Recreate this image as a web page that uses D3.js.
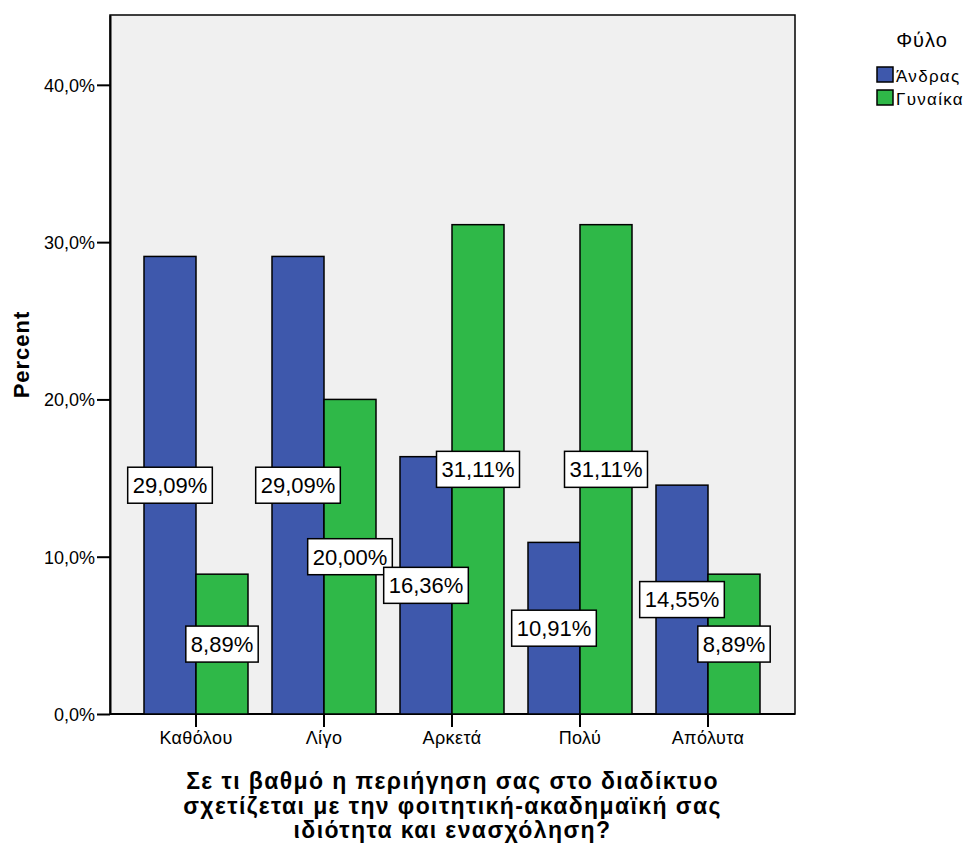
<!DOCTYPE html>
<html>
<head>
<meta charset="utf-8">
<script src="https://cdn.jsdelivr.net/npm/d3@7"></script>
<style>
  body { margin: 0; background: #fff; }
  text { font-family: "Liberation Sans", Arial, sans-serif; fill: #000; }
</style>
</head>
<body>
<div id="chart"></div>
<script>
const categories = ["Καθόλου", "Λίγο", "Αρκετά", "Πολύ", "Απόλυτα"];
const seriesNames = ["Άνδρας", "Γυναίκα"];
const andras = [29.09, 29.09, 16.36, 10.91, 14.55];
const gynaika = [8.89, 20.00, 31.11, 31.11, 8.89];
const yTicks = [0, 10, 20, 30, 40];
const yMax = 44.44;
const colors = ["#3e58ac", "#2fb848"];
const xTitle = ["Σε τι βαθμό η περιήγηση σας στο διαδίκτυο",
                "σχετίζεται με την φοιτητική-ακαδημαϊκή σας",
                "ιδιότητα και ενασχόληση?"];

const width = 968, height = 846;
const plot = {left: 110, top: 15, right: 795, bottom: 714};
const FONT = '"Liberation Sans", Arial, sans-serif';

let svg = d3.select("#chart")
    .append("svg")
    .attr("width", width)
    .attr("height", height);

let data = categories.map(function(c, i) {
    return {cat: c, values: [andras[i], gynaika[i]]};
});

let x0 = d3.scaleBand()
    .domain(categories)
    .range([plot.left + 22, plot.right - 23])
    .paddingInner(0.1875)
    .paddingOuter(0.09375);

let x1 = d3.scaleBand()
    .domain([0, 1])
    .range([0, x0.bandwidth()]);

let y = d3.scaleLinear()
    .domain([0, yMax])
    .range([plot.bottom, plot.top]);

// plot background
svg.append("rect")
    .attr("x", plot.left)
    .attr("y", plot.top)
    .attr("width", plot.right - plot.left)
    .attr("height", plot.bottom - plot.top)
    .attr("fill", "#f0f0f0")
    .attr("stroke", "#000")
    .attr("stroke-width", 1.5);

// y axis
let yAxis = svg.append("g")
    .attr("transform", `translate(${plot.left},0)`)
    .call(d3.axisLeft(y).tickValues(yTicks).tickSize(13).tickSizeOuter(0).tickPadding(2)
        .tickFormat(d => d3.format(".1f")(d).replace(".", ",") + "%"));
yAxis.select(".domain").attr("stroke-width", 2);
yAxis.selectAll(".tick line").attr("stroke-width", 2);
yAxis.selectAll(".tick text").style("font-size", "18px")
    .style("font-family", FONT).attr("dy", "0.35em");

// x axis
let xAxis = svg.append("g")
    .attr("transform", `translate(0,${plot.bottom})`)
    .call(d3.axisBottom(x0).tickSize(13).tickPadding(4));
xAxis.select(".domain").remove();
xAxis.selectAll(".tick line").attr("stroke-width", 2);
xAxis.selectAll(".tick text").style("font-size", "18px")
    .style("font-family", FONT)
    .style("letter-spacing", "0.4px");

svg.append("line")
    .attr("x1", plot.left)
    .attr("x2", plot.right)
    .attr("y1", plot.bottom)
    .attr("y2", plot.bottom)
    .attr("stroke", "#000")
    .attr("stroke-width", 2);

// bars
let groups = svg.append("g").selectAll("g")
    .data(data)
    .enter()
    .append("g")
    .attr("transform", d => `translate(${x0(d.cat)},0)`);

groups.selectAll("rect")
    .data(d => d.values.map((v, i) => ({i: i, v: v})))
    .enter()
    .append("rect")
    .attr("x", d => x1(d.i))
    .attr("y", d => y(d.v))
    .attr("width", x1.bandwidth())
    .attr("height", d => y(0) - y(d.v))
    .attr("fill", d => colors[d.i])
    .attr("stroke", "#000")
    .attr("stroke-width", 1.5);

// value labels in boxes
let labelData = [];
data.forEach(function(d) {
    d.values.forEach(function(v, i) {
        labelData.push({cat: d.cat, i: i, v: v});
    });
});

let labels = svg.append("g").selectAll("g")
    .data(labelData)
    .enter()
    .append("g")
    .attr("transform", d => `translate(${x0(d.cat) + x1(d.i) + x1.bandwidth() / 2},${(y(d.v) + y(0)) / 2})`);

labels.append("text")
    .attr("text-anchor", "middle")
    .attr("dy", "0.36em")
    .style("font-size", "22px")
    .text(d => d.v.toFixed(2).replace(".", ",") + "%");

labels.each(function() {
    let g = d3.select(this);
    let bb = g.select("text").node().getBBox();
    g.insert("rect", "text")
        .attr("x", bb.x - 5)
        .attr("y", -18)
        .attr("width", bb.width + 10)
        .attr("height", 36)
        .attr("fill", "#fff")
        .attr("stroke", "#000")
        .attr("stroke-width", 1.5);
});

// axis titles
svg.append("text")
    .attr("transform", `translate(29,${(plot.top + plot.bottom) / 2 - 10}) rotate(-90)`)
    .attr("text-anchor", "middle")
    .style("font-size", "22px")
    .style("font-weight", "bold")
    .style("letter-spacing", "1px")
    .text("Percent");

svg.append("text")
    .attr("text-anchor", "middle")
    .style("font-size", "23px")
    .style("font-weight", "bold")
    .style("letter-spacing", "1.4px")
    .selectAll("tspan")
    .data(xTitle)
    .enter()
    .append("tspan")
    .attr("x", (plot.left + plot.right) / 2)
    .attr("y", (d, i) => 789 + i * 24.5)
    .text(d => d);

// legend
let legend = svg.append("g");
legend.append("text")
    .attr("x", 922)
    .attr("y", 47)
    .attr("text-anchor", "middle")
    .style("font-size", "20px")
    .style("letter-spacing", "1px")
    .text("Φύλο");

let items = legend.selectAll("g.item")
    .data(seriesNames)
    .enter()
    .append("g")
    .attr("class", "item")
    .attr("transform", (d, i) => `translate(877,${67 + i * 23})`);

items.append("rect")
    .attr("width", 16)
    .attr("height", 15)
    .attr("fill", (d, i) => colors[i])
    .attr("stroke", "#000")
    .attr("stroke-width", 1.5);

items.append("text")
    .attr("x", 19)
    .attr("y", 15)
    .style("font-size", "17px")
    .style("letter-spacing", "1.3px")
    .text(d => d);
</script>
</body>
</html>
